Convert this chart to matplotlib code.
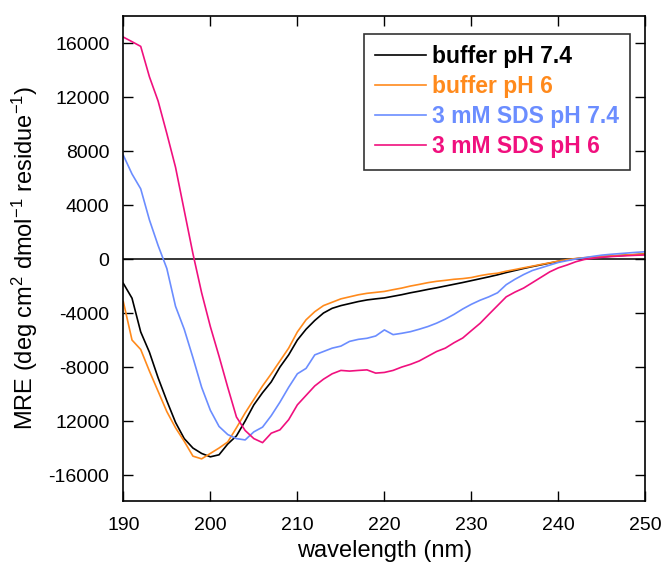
import matplotlib
matplotlib.use("Agg")
import matplotlib.pyplot as plt

plt.rcParams['font.family'] = ['Liberation Sans', 'DejaVu Sans']
plt.rcParams['mathtext.default'] = 'regular'
plt.rcParams['axes.unicode_minus'] = False

# wavelength grid (nm), read every 1 nm off the picture
wavelength = list(range(190, 251))

# MRE values
buffer_74 = [-1800, -2900, -5400, -6900, -8800, -10500, -12100, -13300, -14000, -14400,
             -14650, -14500, -13700, -13100, -12000, -10800, -9900, -9100, -8000, -7100,
             -6000, -5200, -4550, -4000, -3650, -3450, -3300, -3150, -3030, -2950,
             -2880, -2760, -2640, -2500, -2380, -2250, -2130, -2000, -1870, -1740,
             -1600, -1460, -1320, -1170, -1000, -850, -700, -560, -430, -300,
             -170, -60, 20, 80, 130, 170, 210, 250, 290, 330, 370]
buffer_6 = [-3150, -6000, -6700, -8300, -9800, -11300, -12500, -13500, -14600, -14800,
            -14400, -14000, -13550, -12500, -11400, -10400, -9400, -8500, -7550, -6600,
            -5400, -4500, -3900, -3450, -3200, -2950, -2800, -2650, -2540, -2470,
            -2400, -2270, -2150, -2000, -1880, -1750, -1650, -1580, -1500, -1450,
            -1370, -1230, -1120, -1050, -900, -780, -650, -530, -400, -280,
            -150, -40, 40, 100, 150, 190, 230, 270, 310, 340, 380]
sds_74 = [7690, 6300, 5200, 2900, 1000, -700, -3500, -5200, -7300, -9500,
          -11200, -12400, -13000, -13300, -13400, -12800, -12450, -11600, -10600, -9500,
          -8500, -8100, -7100, -6850, -6600, -6450, -6100, -5950, -5870, -5700,
          -5250, -5600, -5500, -5380, -5200, -5000, -4750, -4450, -4100, -3700,
          -3350, -3050, -2800, -2500, -1900, -1500, -1150, -850, -650, -450,
          -250, -120, 0, 100, 200, 290, 350, 400, 450, 500, 540]
sds_6 = [16440, 16100, 15750, 13500, 11700, 9300, 6800, 3600, 400, -2500,
         -5000, -7200, -9500, -11700, -12700, -13300, -13600, -12900, -12650, -11900,
         -10800, -10100, -9400, -8900, -8500, -8250, -8300, -8250, -8210, -8450,
         -8400, -8250, -8000, -7800, -7550, -7200, -6850, -6600, -6200, -5850,
         -5300, -4760, -4100, -3450, -2800, -2450, -2150, -1750, -1350, -950,
         -650, -440, -200, -30, 60, 130, 180, 220, 250, 280, 300]

series = [buffer_74, buffer_6, sds_74, sds_6]
labels = ['buffer pH 7.4', 'buffer pH 6', '3 mM SDS pH 7.4', '3 mM SDS pH 6']
colors = ['#000000', '#FF8A1C', '#6B8DFF', '#F0107E']

yticks = [16000, 12000, 8000, 4000, 0, -4000, -8000, -12000, -16000]
yticklabels = ['16000', '12000', '8000', '4000', '0', '-4000', '-8000', '12000', '-16000']
xticks = [190, 200, 210, 220, 230, 240, 250]

fig = plt.figure(figsize=(6.64, 5.74), dpi=100)
ax = fig.add_axes([0.1857, 0.1277, 0.7864, 0.8444])

ax.axhline(0, color='black', lw=1.1, zorder=1)
for s, lab, c in zip(series, labels, colors):
    ax.plot(wavelength, s, color=c, lw=1.2, label=lab, zorder=2)

ax.set_xlim(190, 250)
ax.set_ylim(-17900, 18000)
ax.set_xticks(xticks)
ax.set_yticks(yticks)
ax.set_yticklabels(yticklabels)
ax.tick_params(direction='in', length=7.5, width=1.0, labelsize=14,
               top=True, right=True, pad=10)
ax.tick_params(axis='x', pad=12)
for sp in ax.spines.values():
    sp.set_linewidth(1.2)

ax.set_xlabel('wavelength (nm)', fontsize=17)
ax.set_ylabel('MRE (deg cm$^2$ dmol$^{-1}$ residue$^{-1}$)', fontsize=17, labelpad=6)

leg = ax.legend(loc='upper right', bbox_to_anchor=(0.9703, 0.9629),
                prop={'weight': 'bold', 'size': 16.5}, frameon=True, fancybox=False,
                handlelength=2.2, handletextpad=0.25, labelspacing=0.3,
                borderpad=0.5, borderaxespad=0)
leg.get_frame().set_edgecolor('black')
leg.get_frame().set_linewidth(1.2)
for t, c in zip(leg.get_texts(), colors):
    t.set_color(c)

fig.savefig('out.png', dpi=100)
